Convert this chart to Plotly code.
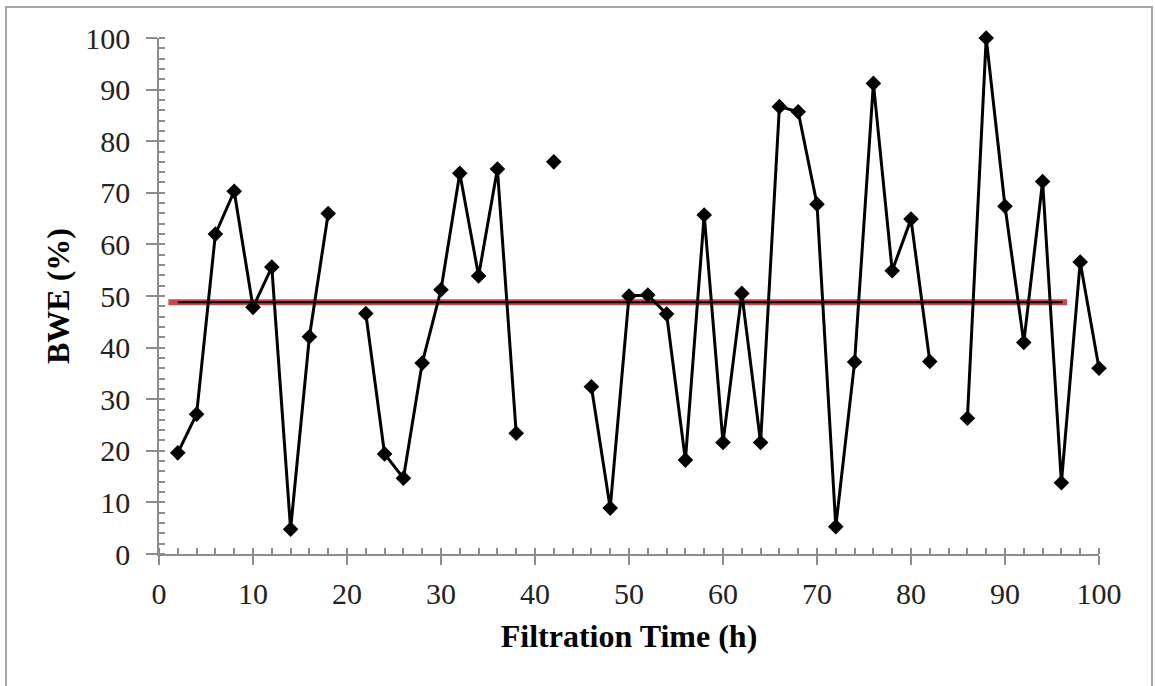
import plotly.graph_objects as go

# Filtration time (h) and BWE (%) values; None marks missing samples
time_h = [2, 4, 6, 8, 10, 12, 14, 16, 18, 20, 22, 24, 26, 28, 30, 32, 34, 36, 38, 40,
          42, 44, 46, 48, 50, 52, 54, 56, 58, 60, 62, 64, 66, 68, 70, 72, 74, 76, 78, 80,
          82, 84, 86, 88, 90, 92, 94, 96, 98, 100]
bwe = [19.6, 27.1, 62.0, 70.3, 47.8, 55.6, 4.8, 42.1, 66.0, None,
       46.6, 19.4, 14.7, 37.0, 51.2, 73.8, 53.9, 74.6, 23.4, None,
       76.0, None, 32.4, 8.9, 50.0, 50.2, 46.5, 18.2, 65.7, 21.6,
       50.5, 21.6, 86.7, 85.7, 67.8, 5.3, 37.2, 91.2, 54.9, 64.9,
       37.3, None, 26.3, 100.0, 67.4, 41.0, 72.2, 13.8, 56.6, 36.0]

# Average line (red band with black centre line)
avg_red_x = [1.0, 96.6]
avg_black_x = [2.0, 96.1]
avg_value = 48.8

x_ticks = [0, 10, 20, 30, 40, 50, 60, 70, 80, 90, 100]
y_ticks = [0, 10, 20, 30, 40, 50, 60, 70, 80, 90, 100]

FONT = "Liberation Serif"
AXIS_GREY = "#8c8c8c"

fig = go.Figure()
fig.add_trace(go.Scatter(
    x=avg_red_x, y=[avg_value] * len(avg_red_x), mode="lines",
    line=dict(color="#c9474a", width=6), hoverinfo="skip", showlegend=False))
fig.add_trace(go.Scatter(
    x=avg_black_x, y=[avg_value] * len(avg_black_x), mode="lines",
    line=dict(color="black", width=2), hoverinfo="skip", showlegend=False))
fig.add_trace(go.Scatter(
    x=time_h, y=bwe, mode="lines+markers", connectgaps=False, cliponaxis=False,
    line=dict(color="black", width=3),
    marker=dict(symbol="diamond", size=12, color="black"),
    showlegend=False))

fig.update_xaxes(
    range=[0, 100], tickvals=x_ticks, ticktext=[str(v) for v in x_ticks],
    showgrid=False, zeroline=False, showline=True, linecolor=AXIS_GREY, linewidth=1.5,
    ticks="outside", ticklen=9, tickwidth=1.5, tickcolor=AXIS_GREY,
    minor=dict(dtick=2, ticks="inside", ticklen=6, tickwidth=1.5, tickcolor=AXIS_GREY, showgrid=False),
    tickfont=dict(family=FONT, size=30, color="#222"),
    ticklabelstandoff=3,
    title=dict(text="<b>Filtration Time (h)</b>", font=dict(family=FONT, size=32, color="black"), standoff=16),
)
fig.update_yaxes(
    range=[0, 100], tickvals=y_ticks, ticktext=[str(v) for v in y_ticks],
    showgrid=False, zeroline=False, showline=True, linecolor=AXIS_GREY, linewidth=1.5,
    ticks="outside", ticklen=11, tickwidth=1.5, tickcolor=AXIS_GREY,
    minor=dict(dtick=2, ticks="inside", ticklen=6, tickwidth=1.5, tickcolor=AXIS_GREY, showgrid=False),
    tickfont=dict(family=FONT, size=30, color="#222"),
    ticklabelstandoff=10,
    title=dict(text="<b>BWE (%)</b>", font=dict(family=FONT, size=32, color="black"), standoff=6),
)

# outer frame of the picture
fig.add_shape(type="rect", xref="paper", yref="paper",
              x0=(6 - 159) / 940, x1=(1152 - 159) / 940,
              y0=(554 - 700) / 516, y1=(554 - 7) / 516,
              line=dict(color="#a6a6a6", width=2), fillcolor="rgba(0,0,0,0)", layer="below")

fig.update_layout(
    width=1155, height=686,
    margin=dict(l=159, r=56, t=38, b=132),
    plot_bgcolor="white", paper_bgcolor="white",
)

fig.write_html("out.html", config={"displayModeBar": False},
               post_script="document.body.style.margin='0';")
